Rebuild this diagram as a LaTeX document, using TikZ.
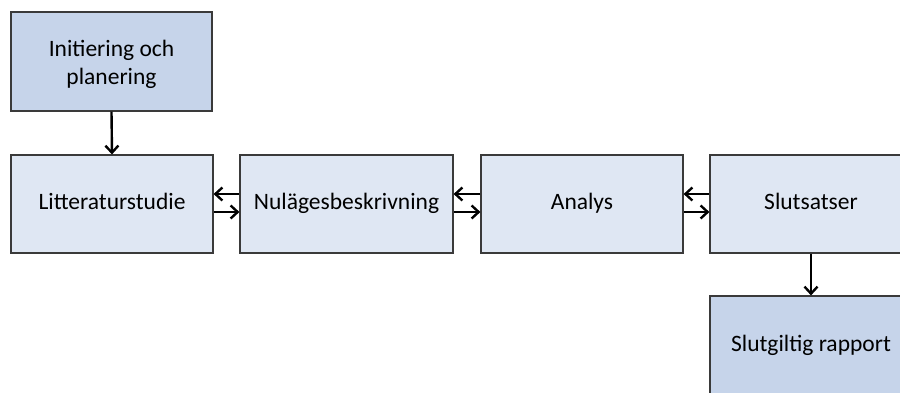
\documentclass[tikz,border=0pt]{standalone}
\usepackage{fontspec}
\setmainfont{Carlito}
\usetikzlibrary{arrows.meta}
\definecolor{boxdark}{HTML}{C6D4EA}
\definecolor{boxlight}{HTML}{DFE7F3}
\definecolor{edge}{HTML}{3A3A3A}
\begin{document}
\begin{tikzpicture}[x=1bp,y=-1bp,
  txt/.style={font=\fontsize{23.5bp}{28bp}\selectfont,text=black,align=center},
  box/.style={draw=edge,line width=1.2bp,minimum height=98bp,txt,inner sep=0pt},
  one/.style={text height=16bp,text depth=5bp},
  conn/.style={line width=2.4bp,-{Straight Barb[length=7bp,width=13bp,line width=2.4bp]}}]
\clip (0,0) rectangle (900,392);
\fill[white] (0,0) rectangle (900,392);
\node[box,fill=boxdark,minimum width=201bp,minimum height=99bp,
  label={[txt,yshift=-3bp]center:Initiering och\\planering}] (init) at (111.5,61.5) {};
\node[box,one,fill=boxlight,minimum width=202bp] (lit) at (112,204) {Litteraturstudie};
\node[box,one,fill=boxlight,minimum width=213bp] (nul) at (346.5,204) {Nulägesbeskrivning};
\node[box,one,fill=boxlight,minimum width=202bp] (ana) at (582,204) {Analys};
\node[box,one,fill=boxlight,minimum width=202bp] (slut) at (811,204) {Slutsatser};
\node[box,one,fill=boxdark,minimum width=202bp,minimum height=99bp] (rap) at (811,345.5) {Slutgiltig rapport};
\draw[conn] (init.south) -- (lit.north);
\draw[conn] ([yshift=10bp]nul.west) -- ([yshift=10bp]lit.east);
\draw[conn] ([yshift=-8bp]lit.east) -- ([yshift=-8bp]nul.west);
\draw[conn] ([yshift=10bp]ana.west) -- ([yshift=10bp]nul.east);
\draw[conn] ([yshift=-8bp]nul.east) -- ([yshift=-8bp]ana.west);
\draw[conn] ([yshift=10bp]slut.west) -- ([yshift=10bp]ana.east);
\draw[conn] ([yshift=-8bp]ana.east) -- ([yshift=-8bp]slut.west);
\draw[conn] (slut.south) -- (rap.north);
\end{tikzpicture}
\end{document}
